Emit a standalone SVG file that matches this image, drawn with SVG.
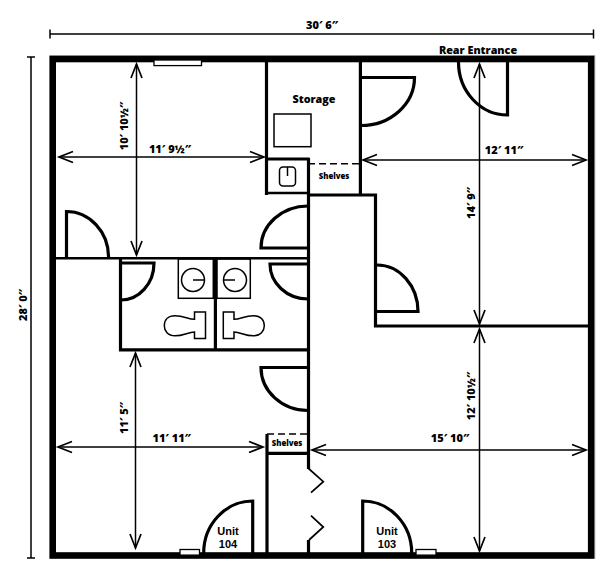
<svg xmlns="http://www.w3.org/2000/svg" width="614" height="588" viewBox="0 0 614 588">
<style>
text{font-family:"Open Sans","Noto Sans","Liberation Sans",sans-serif;font-weight:800;fill:#000;text-anchor:middle}
.d{font-size:11px}
.u{font-size:10.800px}
.s{font-size:7.800px}
.n{font-family:"Liberation Sans",Arial,sans-serif;font-weight:700;font-size:11px}
.w{fill:none;stroke:#000;stroke-width:3.200}
.t{fill:none;stroke:#000;stroke-width:2.400}
.f{fill:none;stroke:#000;stroke-width:1.500}
.win{fill:#fff;stroke:#000;stroke-width:1.300}
.dim{fill:none;stroke:#000;stroke-width:1.500}
.arr{fill:none;stroke:#000;stroke-width:1.500;marker-start:url(#a);marker-end:url(#a)}
</style>
<defs>
<marker id="a" markerUnits="userSpaceOnUse" markerWidth="20" markerHeight="16" refX="15" refY="8" orient="auto-start-reverse"><path d="M1 2.500L15 8L1 13.500" fill="none" stroke="#000" stroke-width="1.700"/></marker>
</defs>
<g id="outer-wall"><path d="M49.500 55.500H595V559" fill="none" stroke="#bbb" stroke-width="0.800"/><rect x="52.700" y="59" width="538.500" height="496.500" fill="none" stroke="#000" stroke-width="6.600"/></g>
<g id="windows">
<rect class="win" x="154" y="60" width="47.500" height="5.600"/>
<rect class="win" x="180" y="549.500" width="19.500" height="5.600"/>
<rect class="win" x="416" y="549.500" width="20" height="5.600"/>
</g>
<g id="walls">
<path class="t" d="M56 258.200H308"/>
<path class="w" d="M266.500 62V195"/>
<path class="w" d="M265 159H309.500"/>
<path class="t" d="M266 193H308"/>
<path class="w" d="M360.400 62V194"/>
<path class="w" d="M308 195H375.500V326H588"/>
<path class="w" d="M308.500 158V469"/>
<path class="w" d="M308.500 540V553"/>
<path class="w" d="M120.500 258V349.800H308"/>
<path class="w" d="M215.400 258V350"/>
<path class="w" d="M267 434V553"/>
<path class="w" d="M267 453.300H308"/>
<path d="M267 434H308" fill="none" stroke="#000" stroke-width="1.600" stroke-dasharray="7 4"/>
<path d="M308 163.700H360" fill="none" stroke="#000" stroke-width="1.600" stroke-dasharray="7 4"/>
<path d="M308 468L323.300 481.700L311 492.700M311 515.700L323.300 527L309 540" fill="none" stroke="#000" stroke-width="1.700"/>
</g>
<g id="doors">
<path class="w" d="M66.500 257V211.500A42 45.500 0 0 1 108.500 257"/>
<path class="w" d="M121 263H154A33 37 0 0 1 121 300"/>
<path class="w" d="M308 264H270A38 35 0 0 0 308 299"/>
<path class="w" d="M308 248H261A47 42 0 0 1 308 206"/>
<path class="w" d="M308 367.500H261A47 43 0 0 0 308 410.500"/>
<path class="w" d="M361 77.500H414.500A53.500 48 0 0 1 361 125.500"/>
<path class="w" d="M507.500 62V115A49 53 0 0 1 458.500 62"/>
<path class="w" d="M377 265A41 46.500 0 0 1 418 311.500H376"/>
<path class="w" d="M252.700 553V501A49 52 0 0 0 203.700 553"/>
<path class="w" d="M362.700 553V501A49 52 0 0 1 411.700 553"/>
</g>
<g id="fixtures">
<rect class="f" x="274" y="114" width="37" height="32.700"/>
<rect class="f" x="279.500" y="167" width="16" height="19" rx="3.500"/>
<path class="f" d="M287.500 167V176"/>
<rect class="f" x="178.300" y="259" width="35" height="39.300"/>
<rect class="f" x="217" y="259" width="33.300" height="39.300"/>
<circle class="f" cx="193" cy="280" r="11.500"/>
<path class="f" d="M193 280H204.500"/>
<circle class="f" cx="235" cy="280" r="11.500"/>
<path class="f" d="M224 280H235"/>
<path class="f" d="M194.500 312H205.500V338.500H194.500V332C188 332 184 335.800 175 335.800C168 335.800 164.300 331 164.300 325.800C164.300 320 168 315.700 175 315.700C184 315.700 188 319.200 194.500 319.200Z"/>
<path class="f" d="M234 312H223.300V338.500H234V332C240.500 332 244.500 335.800 253.500 335.800C260.500 335.800 264.300 331 264.300 325.800C264.300 320 260.500 315.700 253.500 315.700C244.500 315.700 240.500 319.200 234 319.200Z"/>
</g>
<g id="dimensions">
<path class="dim" d="M50 34H593.500M50 29.500V38.500M593.500 29.500V38.500"/>
<path class="dim" d="M31 57V558M27 57H35M27 558H35"/>
<path class="arr" d="M136.500 64V255"/>
<path class="arr" d="M59 157H264"/>
<path class="arr" d="M363 160H586"/>
<path class="arr" d="M479.500 64V324"/>
<path class="arr" d="M479.500 329V551"/>
<path class="arr" d="M312 450H586"/>
<path class="arr" d="M58 447H263"/>
<path class="arr" d="M135.500 353V548"/>
</g>
<g id="labels">
<text class="d" x="322" y="29">30′ 6″</text>
<text class="u" x="478" y="53.500">Rear Entrance</text>
<text class="u" x="314" y="103">Storage</text>
<text class="s" x="334" y="179">Shelves</text>
<text class="s" x="287" y="446">Shelves</text>
<text class="n" x="228" y="534.500">Unit</text>
<text class="n" x="228" y="547.500">104</text>
<text class="n" x="387" y="534.500">Unit</text>
<text class="n" x="387" y="547.500">103</text>
<text class="d" x="170" y="153">11′ 9½″</text>
<text class="d" x="504" y="153.500">12′ 11″</text>
<text class="d" x="171.700" y="442">11′ 11″</text>
<text class="d" x="450" y="442">15′ 10″</text>
<text class="d" transform="translate(128 126) rotate(-90)">10′ 10½″</text>
<text class="d" transform="translate(27 305) rotate(-90)">28′ 0″</text>
<text class="d" transform="translate(128 418) rotate(-90)">11′ 5″</text>
<text class="d" transform="translate(475 203) rotate(-90)">14′ 9″</text>
<text class="d" transform="translate(475 396) rotate(-90)">12′ 10½″</text>
</g>
</svg>
